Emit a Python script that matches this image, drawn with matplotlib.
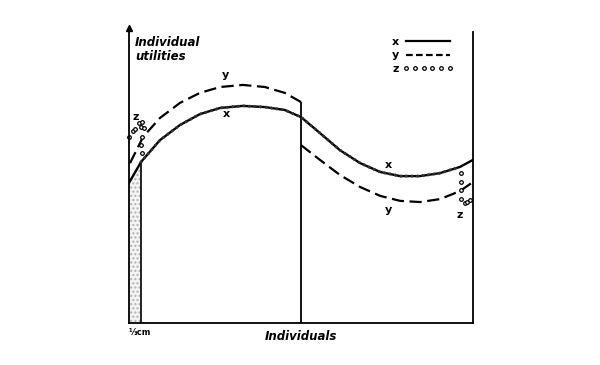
import matplotlib
matplotlib.use("Agg")
import matplotlib.pyplot as plt
from matplotlib.lines import Line2D

# values (individuals 0-100, utility 0-100)
ind = [0, 3.5, 9.0, 14.8, 20.6, 26.5, 33.1, 39.5, 45.3, 50.0,
       55.5, 61.3, 67.2, 73.0, 78.8, 84.6, 90.4, 96.2, 100]
util_x = [47.5, 54.6, 62.0, 67.1, 70.8, 72.9, 73.6, 73.2, 72.2, 69.8,
          64.4, 58.6, 54.2, 51.2, 49.8, 49.8, 50.8, 52.9, 55.3]

ind_y_left = [0.3, 4.1, 9.0, 14.8, 20.6, 26.5, 33.1, 39.5, 45.3, 50.0]
util_y_left = [54.2, 63.1, 69.5, 74.6, 78.0, 80.0, 80.7, 80.0, 78.0, 74.9]
ind_y_right = [50.0, 55.5, 61.3, 67.2, 73.0, 78.8, 84.6, 90.4, 96.2, 100]
util_y_right = [60.3, 55.3, 50.2, 46.1, 43.1, 41.4, 41.0, 42.0, 44.7, 47.8]

# z lies on x in the middle, scattered at both ends
z_left_ind = [0, 1.2, 1.7, 2.9, 3.8, 3.5, 4.4, 3.8, 3.5, 3.8]
z_left_util = [63.1, 65.1, 65.8, 67.8, 68.1, 66.4, 66.1, 63.1, 60.3, 57.6]
z_right_ind = [96.4, 96.4, 96.4, 96.4, 97.7, 98.3, 99.1]
z_right_util = [50.7, 47.9, 45.1, 41.9, 40.8, 41.1, 41.7]

strip_end = 3.5

fig = plt.figure(figsize=(6, 3.65), dpi=100)
ax = fig.add_axes([129/600, 42/365, 344/600, 295/365])
ax.set_xlim(0, 100)
ax.set_ylim(0, 100)
ax.set_xticks([])
ax.set_yticks([])
ax.spines['top'].set_visible(False)
for s in ['left', 'bottom', 'right']:
    ax.spines[s].set_linewidth(1.3)
ax.spines['right'].set_bounds(0, 98.6)
ax.plot(0, 1, marker='^', color='k', ms=4, transform=ax.get_xaxis_transform(), clip_on=False)

# shaded strip of width 1/3 cm
ax.fill_between(ind[:2], 0, util_x[:2], facecolor='#f4f4f4', hatch='....',
                edgecolor='#b0b0b0', linewidth=0)
ax.vlines(strip_end, 0, util_x[1], color='k', lw=1.2)

# vertical break in y
ax.vlines(50, 0, util_y_left[-1], color='k', lw=1.3)

ax.plot(ind, util_x, color='k', lw=1.7, solid_capstyle='round')
ax.plot(ind[1:-1], util_x[1:-1], color='#333333', lw=2.2, linestyle=(0, (0.01, 1.8)),
        dash_capstyle='round')
ax.plot(ind_y_left, util_y_left, color='k', lw=1.6, linestyle=(0, (5.5, 2.5)))
ax.plot(ind_y_right, util_y_right, color='k', lw=1.6, linestyle=(0, (5.5, 2.5)))
ax.plot(z_left_ind, z_left_util, 'o', ms=2.6, mfc='white', mec='k', mew=0.9, clip_on=False)
ax.plot(z_right_ind, z_right_util, 'o', ms=2.6, mfc='white', mec='k', mew=0.9, clip_on=False)

lab = dict(fontsize=8, fontweight='bold', ha='center', va='center')
ax.text(27.9, 84.1, 'y', **lab)
ax.text(28.2, 70.8, 'x', **lab)
ax.text(75.3, 53.6, 'x', **lab)
ax.text(75.3, 38.3, 'y', **lab)
ax.text(2.0, 69.8, 'z', **lab)
ax.text(96.2, 36.6, 'z', **lab)

ax.text(1.7, 97.3, 'Individual\nutilities', fontsize=8.5, fontweight='bold', style='italic',
        ha='left', va='top', linespacing=1.1)
ax.text(50, -4.5, 'Individuals', fontsize=8.5, fontweight='bold', style='italic',
        ha='center', va='center')
ax.text(0, -3.2, '⅓cm', fontsize=6, fontweight='bold', ha='left', va='center')

handles = [Line2D([], [], color='k', lw=1.6),
           Line2D([], [], color='k', lw=1.6, linestyle=(0, (3, 1.5))),
           Line2D([], [], color='k', linestyle='none', marker='o', ms=2.6,
                  mfc='white', mec='k', mew=0.9)]
ax.legend(handles, ['x', 'y', 'z'], loc='upper left', bbox_to_anchor=(0.735, 1.005),
          frameon=False, markerfirst=False, numpoints=6, handlelength=4.6,
          handletextpad=0.3, labelspacing=0.35, prop={'size': 8, 'weight': 'bold'})

fig.savefig('out.png', dpi=100)
